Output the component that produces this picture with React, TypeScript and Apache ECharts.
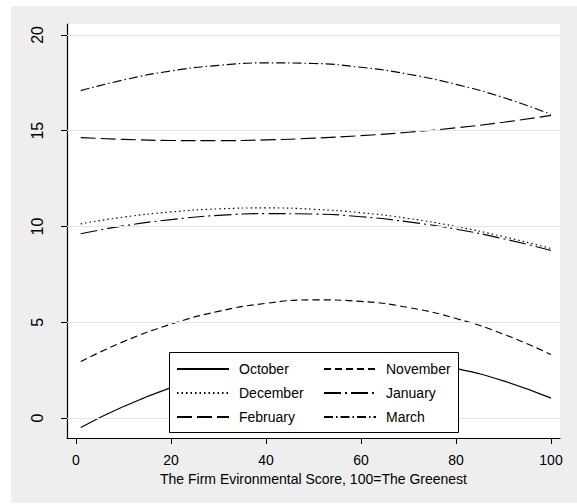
import React, { useEffect, useRef } from "react";
import * as echarts from "echarts";

const xValues = [1, 10, 20, 30, 40, 50, 60, 70, 80, 90, 100];
const october = [-0.49, 0.6, 1.59, 2.35, 2.87, 3.15, 3.2, 3.01, 2.59, 1.94, 1.04];
const november = [2.95, 3.99, 4.9, 5.57, 5.99, 6.17, 6.09, 5.77, 5.2, 4.38, 3.32];
const december = [10.14, 10.49, 10.76, 10.92, 10.97, 10.9, 10.72, 10.42, 10.0, 9.47, 8.85];
const january = [9.62, 10.03, 10.36, 10.58, 10.67, 10.65, 10.51, 10.24, 9.86, 9.36, 8.75];
const february = [14.64, 14.55, 14.49, 14.48, 14.52, 14.61, 14.74, 14.92, 15.15, 15.44, 15.8];
const march = [17.09, 17.65, 18.12, 18.41, 18.54, 18.51, 18.31, 17.95, 17.42, 16.73, 15.85];

const seriesNames = ["October", "November", "December", "January", "February", "March"];
const legendCol1 = ["October", "December", "February"];
const legendCol2 = ["November", "January", "March"];
const xTicks = [0, 20, 40, 60, 80, 100];
const yTicks = [0, 5, 10, 15, 20];
const xTitle = "The Firm Evironmental Score, 100=The Greenest";

const FONT = "'Liberation Sans', Arial, Helvetica, sans-serif";

export default function App() {
  const ref = useRef<HTMLDivElement>(null);
  useEffect(() => {
    if (!ref.current) return;
    const chart = echarts.init(ref.current, undefined, { renderer: "svg" });
    const values = [october, november, december, january, february, march];
    const dashes: any[] = ["solid", [7, 4], [1.5, 3], [17, 4, 2, 4], [15, 5], [9, 3, 1.5, 3]];
    const series: any[] = seriesNames.map((name, i) => ({
      name,
      type: "line",
      data: xValues.map((x, j) => [x, values[i][j]]),
      smooth: true,
      symbol: "none",
      showSymbol: false,
      z: 3,
      lineStyle: { color: "#000", width: 1.15, type: dashes[i] },
      itemStyle: { color: "#000" },
    }));
    series.push({
      name: "grid",
      type: "line",
      data: [],
      z: 1,
      silent: true,
      markLine: {
        silent: true,
        symbol: "none",
        label: { show: false },
        lineStyle: { color: "#e4e4e4", width: 1, type: "solid" },
        data: yTicks.map((v) => ({ yAxis: v })),
      },
    });
    const legendBase = {
      orient: "vertical",
      top: 362,
      padding: 0,
      itemGap: 10,
      itemWidth: 52,
      itemHeight: 14,
      z: 10,
      selectedMode: false,
      itemStyle: { opacity: 0 },
      textStyle: { color: "#000", fontSize: 14, fontFamily: FONT, padding: [0, 0, 0, 5] },
    };
    chart.setOption({
      animation: false,
      textStyle: { fontFamily: FONT },
      grid: {
        left: 67,
        top: 24,
        right: 17,
        bottom: 66,
        show: true,
        backgroundColor: "#ffffff",
        borderWidth: 0,
      },
      xAxis: {
        type: "value",
        min: -1.89,
        max: 101.9,
        name: xTitle,
        nameLocation: "middle",
        nameGap: 32,
        nameTextStyle: { color: "#000", fontSize: 14, fontFamily: FONT },
        axisLine: { show: true, onZero: false, lineStyle: { color: "#000", width: 1.2 } },
        axisTick: { show: true, length: 6, customValues: xTicks, lineStyle: { color: "#000", width: 1 } },
        axisLabel: { customValues: xTicks, color: "#000", fontSize: 14, fontFamily: FONT, margin: 15 },
        splitLine: { show: false },
      },
      yAxis: {
        type: "value",
        min: -1.04,
        max: 20.57,
        axisLine: { show: true, onZero: false, lineStyle: { color: "#000", width: 1.2 } },
        axisTick: { show: true, length: 6, customValues: yTicks, lineStyle: { color: "#000", width: 1 } },
        axisLabel: { customValues: yTicks, color: "#000", fontSize: 16, fontFamily: FONT, rotate: 90, margin: 22 },
        splitLine: { show: false },
      },
      legend: [
        { ...legendBase, left: 176, data: legendCol1 },
        { ...legendBase, left: 323, data: legendCol2 },
      ],
      graphic: [
        {
          type: "rect",
          z: 8,
          shape: { x: 169.5, y: 352.5, width: 289, height: 80 },
          style: { fill: "#fff", stroke: "#000", lineWidth: 1 },
        },
      ],
      series,
    });
    return () => chart.dispose();
  }, []);
  return (
    <div style={{ position: "absolute", left: 0, top: 0, width: 577, height: 504, background: "#fff" }}>
      <div style={{ position: "absolute", left: 11, top: 6, width: 566, height: 497, background: "#eeeeee" }} />
      <div ref={ref} style={{ position: "absolute", left: 0, top: 0, width: 577, height: 504 }} />
    </div>
  );
}
